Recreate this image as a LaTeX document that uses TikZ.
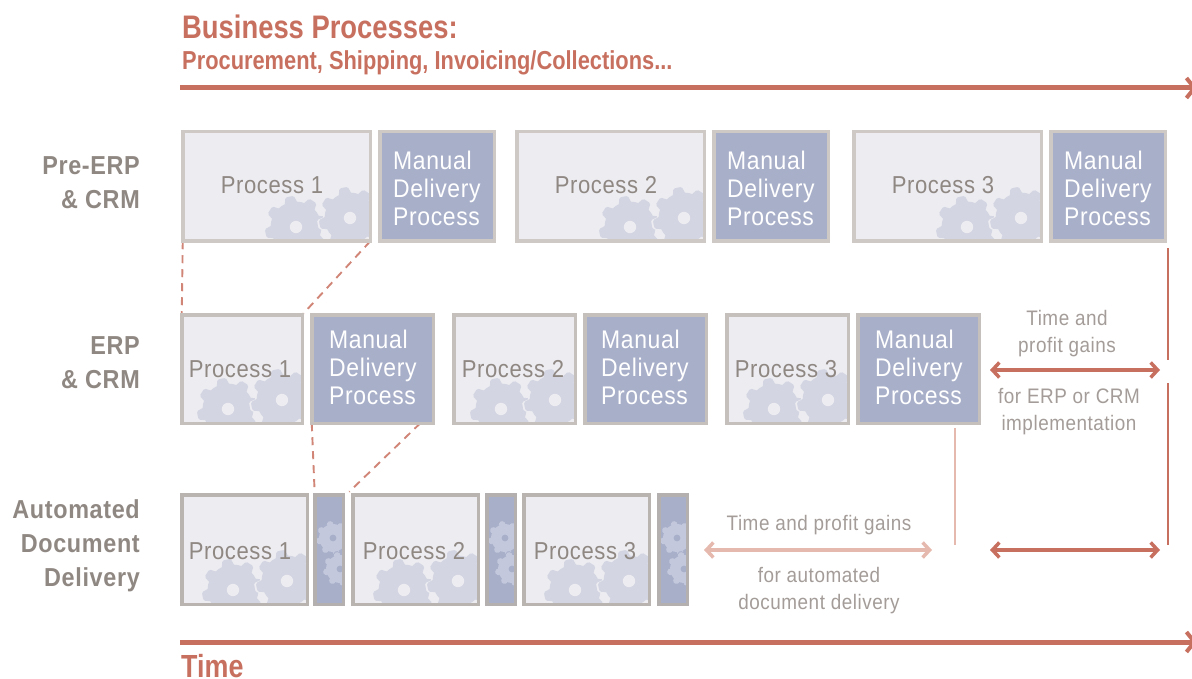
\documentclass[tikz,border=0pt]{standalone}
\usepackage{fontspec}
\setmainfont[FakeStretch=0.9,LetterSpace=2.5]{Liberation Sans}
\newfontfamily\titlefont[FakeStretch=0.84]{Liberation Sans}
\usetikzlibrary{arrows.meta,backgrounds}
\definecolor{brick}{HTML}{C8705F}
\definecolor{brickl}{HTML}{E6B9AE}
\definecolor{edgea}{HTML}{CFC9C6}
\definecolor{edgeb}{HTML}{C6C0BC}
\definecolor{edgec}{HTML}{BAB4B1}
\definecolor{edged}{HTML}{B5B0B0}
\definecolor{pale}{HTML}{ECECF1}
\definecolor{bluefill}{HTML}{A8AFC9}
\definecolor{gearc}{HTML}{D3D5E2}
\definecolor{gearb}{HTML}{C3C8DC}
\definecolor{ink}{HTML}{8F8782}
\definecolor{inkl}{HTML}{A39C98}
\colorlet{edgenow}{edgea}
\newcommand{\gearshape}[3]{% radius, colour, scale
  \fill[#2] (0,0) circle ({0.82*#1*#3});
  \foreach \a in {0,45,...,315}{
    \fill[#2,rotate=\a+12,rounded corners=1.5pt] ({-0.21*#1*#3},{0.75*#1}) -- ({-0.14*#1*#3},{#1*#3}) -- ({0.14*#1*#3},{#1*#3}) -- ({0.21*#1*#3},{0.75*#1}) -- cycle;
  }}
\newcommand{\gear}[6]{% x,y,radius,colour,hole colour,halo colour
  \begin{scope}[shift={(#1,#2)}]
    \gearshape{#3}{#6}{1.06}
    \gearshape{#3}{#4}{1}
    \fill[#5] (0,0) circle ({0.2*#3});
  \end{scope}}
\tikzset{
  x=1pt,y=-1pt,
  box/.style={draw=edgenow,line width=3.5pt,inner sep=0pt,outer sep=0pt,align=left},
  procbox/.style={box,fill=pale},
  manbox/.style={box,fill=bluefill},
  manlabel/.style={anchor=west,align=left,inner sep=0pt,text=white,font=\fontsize{25.5}{28}\selectfont},
  slimbox/.style={box,draw=edged,fill=bluefill},
  proclabel/.style={text=ink,inner sep=0pt,font=\fontsize{24.5}{28}\selectfont},
  rowlabel/.style={anchor=east,align=right,inner sep=0pt,text=ink,font=\fontsize{26}{34}\bfseries\selectfont},
  gaintext/.style={anchor=center,align=center,inner sep=0pt,text=inkl,font=\fontsize{21}{27}\selectfont},
  titlelabel/.style={anchor=base west,inner sep=0pt,text=brick},
  bar/.style={draw=brick,line width=5pt,-{Straight Barb[length=8pt,width=20pt,line width=4pt]}},
  twoway/.style={draw=brick,line width=3.5pt,{Straight Barb[length=7pt,width=15pt,line width=3.5pt]}-{Straight Barb[length=7pt,width=15pt,line width=3.5pt]}},
  twowayl/.style={twoway,draw=brickl},
  dashlink/.style={draw=brick!85,line width=1.9pt,dash pattern=on 8pt off 6pt},
  gainline/.style={draw=brick,line width=2pt},
  gainlinel/.style={draw=brickl,line width=2.5pt},
}
% name, x0, y0, x1, y1, text x, text y, text
\newcommand{\procnode}[8]{%
  \node[procbox,minimum width={(#4-#2-3.5)*1pt},minimum height={(#5-#3-3.5)*1pt}] (#1) at ({(#2+#4)/2},{(#3+#5)/2}) {};
  \begin{scope}
    \clip (#1.north west) rectangle (#1.south east);
    \gear{#4-76}{#5-16}{31}{gearc}{pale}{pale}
    \gear{#4-22}{#5-25}{31}{gearc}{pale}{pale}
  \end{scope}
  \draw[edgenow,line width=3.5pt] (#1.north west) rectangle (#1.south east);
  \node[proclabel] (#1t) at (#6,#7) {#8};
}
% name, x0, y0, x1, y1, text left x, text centre y
\newcommand{\mannode}[7]{%
  \node[manbox,minimum width={(#4-#2-3.5)*1pt},minimum height={(#5-#3-3.5)*1pt}] (#1) at ({(#2+#4)/2},{(#3+#5)/2}) {};
  \node[manlabel] (#1t) at (#6,#7) {Manual\\Delivery\\Process};
}
\newcommand{\slimnode}[5]{%
  \node[slimbox,minimum width={(#4-#2-3.5)*1pt},minimum height={(#5-#3-3.5)*1pt}] (#1) at ({(#2+#4)/2},{(#3+#5)/2}) {};
  \begin{scope}
    \clip (#1.north west) rectangle (#1.south east);
    \gear{#4-12}{#3+45}{17}{gearb}{bluefill}{bluefill}
    \gear{#4-5}{#3+76}{17}{gearb}{bluefill}{bluefill}
  \end{scope}
  \draw[edged,line width=3.5pt] (#1.north west) rectangle (#1.south east);
}
\begin{document}
\begin{tikzpicture}
\useasboundingbox (0,0) rectangle (1192,679);
% titles
\node[titlelabel,font=\titlefont\fontsize{32.6}{36}\bfseries\selectfont] (title) at (182,39) {Business Processes:};
\node[titlelabel,font=\titlefont\fontsize{26}{28}\bfseries\selectfont] (subtitle) at (182,70) {Procurement, Shipping, Invoicing/Collections...};
\node[titlelabel,font=\titlefont\fontsize{32}{34}\bfseries\selectfont] (timelabel) at (181,677) {Time};
\coordinate (topa) at (180,88); \coordinate (topb) at (1197,88);
\coordinate (bota) at (180,642); \coordinate (botb) at (1197,642);
\draw[bar] (topa) -- (topb);
\draw[bar] (bota) -- (botb);
% row labels
\node[rowlabel] (rowa) at (140,183) {Pre-ERP\\\& CRM};
\node[rowlabel] (rowb) at (140,363) {ERP\\\& CRM};
\node[rowlabel] (rowc) at (140,546) {Automated\\Document\\Delivery};
% row 1
\procnode{pa}{181}{130}{372}{243}{272}{185}{Process 1}
\mannode{ma}{378}{130}{496}{243}{393}{188}
\procnode{pb}{515}{130}{706}{243}{606}{185}{Process 2}
\mannode{mb}{712}{130}{830}{243}{727}{188}
\procnode{pc}{852}{130}{1043}{243}{943}{185}{Process 3}
\mannode{mc}{1049}{130}{1167}{243}{1064}{188}
% row 2
\colorlet{edgenow}{edgeb}
\procnode{qa}{180}{313}{304}{425}{240}{369}{Process 1}
\mannode{na}{310}{313}{435}{425}{329}{367}
\procnode{qb}{452}{313}{577}{425}{513}{369}{Process 2}
\mannode{nb}{583}{313}{708}{425}{601}{367}
\procnode{qc}{725}{313}{850}{425}{786}{369}{Process 3}
\mannode{nc}{856}{313}{981}{425}{875}{367}
% row 3
\colorlet{edgenow}{edgec}
\procnode{ra}{180}{493}{309}{606}{240}{551}{Process 1}
\slimnode{sa}{313}{493}{345}{606}
\procnode{rb}{351}{493}{480}{606}{414}{551}{Process 2}
\slimnode{sb}{485}{493}{517}{606}
\procnode{rc}{522}{493}{651}{606}{585}{551}{Process 3}
\slimnode{sc}{657}{493}{689}{606}
% dashed links
\begin{pgfonlayer}{background}
\draw[dashlink] (pa.south west) -- (qa.north west);
\draw[dashlink] (pa.south east) -- (qa.north east);
\draw[dashlink] (na.south west) -- (sa.north west);
\draw[dashlink] ([xshift=-13pt]na.south east) -- ([shift={(6pt,3pt)}]sa.north east);
\end{pgfonlayer}
% gains
\coordinate (va) at (1168,248); \coordinate (vb) at (1168,360);
\coordinate (vc) at (1168,383); \coordinate (vd) at (1168,545);
\coordinate (ve) at (955,428);  \coordinate (vf) at (955,545);
\draw[gainline] (va) -- (vb);
\draw[gainline] (vc) -- (vd);
\draw[gainlinel] (ve) -- (vf);
\coordinate (aa) at (990,370); \coordinate (ab) at (1160,370);
\coordinate (ac) at (990,550); \coordinate (ad) at (1160,550);
\coordinate (ae) at (704,550); \coordinate (af) at (932,550);
\draw[twoway] (aa) -- (ab);
\draw[twoway] (ac) -- (ad);
\draw[twowayl] (ae) -- (af);
\node[gaintext] (ga) at (1067,334) {Time and\\profit gains};
\node[gaintext] (gb) at (1069,412) {for ERP or CRM\\implementation};
\node[gaintext] (gc) at (819,525) {Time and profit gains};
\node[gaintext] (gd) at (819,591) {for automated\\document delivery};
\end{tikzpicture}
\end{document}
